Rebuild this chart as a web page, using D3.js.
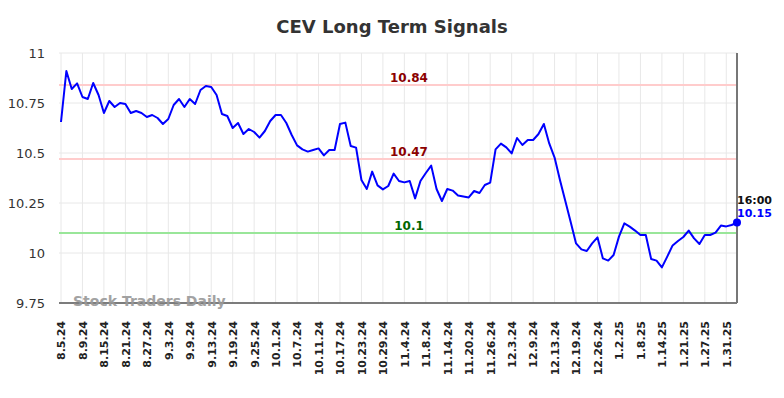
<!DOCTYPE html>
<html>
<head>
<meta charset="utf-8">
<script src="https://cdn.jsdelivr.net/npm/d3@7"></script>
<style>
    body { margin: 0; background: #fff; font-family: "DejaVu Sans", sans-serif; }
    #chart { width: 784px; height: 398px; }
</style>
</head>
<body>
<div id="chart"></div>
<script>
// trading days shown on the chart
const dates = [
    "8.5.24","8.6.24","8.7.24","8.8.24","8.9.24","8.12.24","8.13.24","8.14.24","8.15.24","8.16.24",
    "8.19.24","8.20.24","8.21.24","8.22.24","8.23.24","8.26.24","8.27.24","8.28.24","8.29.24","8.30.24",
    "9.3.24","9.4.24","9.5.24","9.6.24","9.9.24","9.10.24","9.11.24","9.12.24","9.13.24","9.16.24",
    "9.17.24","9.18.24","9.19.24","9.20.24","9.23.24","9.24.24","9.25.24","9.26.24","9.27.24","9.30.24",
    "10.1.24","10.2.24","10.3.24","10.4.24","10.7.24","10.8.24","10.9.24","10.10.24","10.11.24","10.14.24",
    "10.15.24","10.16.24","10.17.24","10.18.24","10.21.24","10.22.24","10.23.24","10.24.24","10.25.24","10.28.24",
    "10.29.24","10.30.24","10.31.24","11.1.24","11.4.24","11.5.24","11.6.24","11.7.24","11.8.24","11.11.24",
    "11.12.24","11.13.24","11.14.24","11.15.24","11.18.24","11.19.24","11.20.24","11.21.24","11.22.24","11.25.24",
    "11.26.24","11.27.24","11.29.24","12.2.24","12.3.24","12.4.24","12.5.24","12.6.24","12.9.24","12.10.24",
    "12.11.24","12.12.24","12.13.24","12.16.24","12.17.24","12.18.24","12.19.24","12.20.24","12.23.24","12.24.24",
    "12.26.24","12.27.24","12.30.24","12.31.24","1.2.25","1.3.25","1.6.25","1.7.25","1.8.25","1.9.25",
    "1.10.25","1.13.25","1.14.25","1.15.25","1.16.25","1.17.25","1.21.25","1.22.25","1.23.25","1.24.25",
    "1.27.25","1.28.25","1.29.25","1.30.25","1.31.25","2.3.25","2.4.25"
];

const prices = [
    10.655, 10.91, 10.82, 10.848, 10.78, 10.77, 10.85, 10.79, 10.70, 10.76,
    10.73, 10.75, 10.745, 10.70, 10.71, 10.70, 10.68, 10.69, 10.675, 10.645,
    10.67, 10.74, 10.77, 10.73, 10.77, 10.745, 10.815, 10.835, 10.83, 10.79,
    10.695, 10.685, 10.625, 10.65, 10.595, 10.62, 10.605, 10.577, 10.61, 10.66,
    10.69, 10.69, 10.65, 10.59, 10.538, 10.518, 10.507, 10.515, 10.523, 10.488,
    10.515, 10.515, 10.645, 10.652, 10.535, 10.527, 10.365, 10.32, 10.407, 10.338,
    10.318, 10.335, 10.397, 10.36, 10.353, 10.36, 10.273, 10.36, 10.40, 10.437,
    10.32, 10.26, 10.32, 10.312, 10.288, 10.283, 10.278, 10.31, 10.30, 10.34,
    10.352, 10.518, 10.547, 10.528, 10.498, 10.575, 10.54, 10.565, 10.565, 10.595,
    10.645, 10.548, 10.477, 10.365, 10.26, 10.155, 10.048, 10.018, 10.01, 10.048,
    10.078, 9.973, 9.962, 9.99, 10.082, 10.148, 10.132, 10.112, 10.09, 10.09,
    9.97, 9.962, 9.928, 9.982, 10.038, 10.06, 10.08, 10.112, 10.073, 10.045,
    10.09, 10.09, 10.102, 10.137, 10.133, 10.14, 10.152
];

const yTicks = [9.75, 10, 10.25, 10.5, 10.75, 11];
const xTicks = dates.filter((d, i) => i % 4 === 0 && i <= 124);

const resistance = [10.84, 10.47];
const support = [10.1];
const lastTime = "16:00";

const width = 784, height = 398;
const margin = { top: 53, right: 47, bottom: 95, left: 61 };

const svg = d3.select("#chart").append("svg")
    .attr("width", width)
    .attr("height", height);

const x = d3.scalePoint()
    .domain(dates)
    .range([margin.left, width - margin.right]);

const y = d3.scaleLinear()
    .domain([9.75, 11])
    .range([height - margin.bottom, margin.top]);

// title
svg.append("text")
    .attr("x", width / 2)
    .attr("y", 33)
    .attr("text-anchor", "middle")
    .style("font-size", "18px")
    .style("font-weight", "bold")
    .style("fill", "#333")
    .text("CEV Long Term Signals");

// grid
svg.append("g")
    .selectAll("line")
    .data(yTicks)
    .join("line")
    .attr("x1", margin.left - 2)
    .attr("x2", width - margin.right)
    .attr("y1", d => y(d))
    .attr("y2", d => y(d))
    .attr("stroke", "#e8e8e8")
    .attr("stroke-width", 1);

svg.append("g")
    .selectAll("line")
    .data(xTicks)
    .join("line")
    .attr("x1", d => x(d))
    .attr("x2", d => x(d))
    .attr("y1", margin.top)
    .attr("y2", height - margin.bottom)
    .attr("stroke", "#e8e8e8")
    .attr("stroke-width", 1);

// y axis labels
const yAxis = d3.axisLeft(y)
    .tickValues(yTicks)
    .tickSize(0)
    .tickPadding(16)
    .tickFormat(d => String(d));

svg.append("g")
    .attr("class", "y-axis")
    .attr("transform", "translate(" + margin.left + ",0)")
    .call(yAxis)
    .call(g => g.select(".domain").remove())
    .selectAll("text")
    .style("font-family", "DejaVu Sans, sans-serif")
    .style("font-size", "13px")
    .style("fill", "#333");

// x axis labels
const xAxis = d3.axisBottom(x)
    .tickValues(xTicks)
    .tickSize(0);

svg.append("g")
    .attr("class", "x-axis")
    .attr("transform", "translate(0," + (height - margin.bottom) + ")")
    .call(xAxis)
    .call(g => g.select(".domain").remove())
    .selectAll("text")
    .attr("transform", "rotate(-90)")
    .attr("x", -18)
    .attr("y", 0)
    .attr("dy", "0.35em")
    .attr("text-anchor", "end")
    .style("font-family", "DejaVu Sans, sans-serif")
    .style("font-size", "11px")
    .style("font-weight", "bold")
    .style("fill", "#222");

// signal lines
svg.append("g")
    .selectAll("line")
    .data(resistance)
    .join("line")
    .attr("x1", margin.left - 2)
    .attr("x2", width - margin.right)
    .attr("y1", d => y(d))
    .attr("y2", d => y(d))
    .attr("stroke", "#ffcccc")
    .attr("stroke-width", 2);

svg.append("g")
    .selectAll("line")
    .data(support)
    .join("line")
    .attr("x1", margin.left - 2)
    .attr("x2", width - margin.right)
    .attr("y1", d => y(d))
    .attr("y2", d => y(d))
    .attr("stroke", "#99e699")
    .attr("stroke-width", 2);

const midX = 409;

svg.append("g")
    .selectAll("text")
    .data(resistance)
    .join("text")
    .attr("x", midX)
    .attr("y", d => y(d) - 3.5)
    .attr("text-anchor", "middle")
    .style("font-size", "12px")
    .style("font-weight", "bold")
    .style("fill", "#8b0000")
    .text(d => d);

svg.append("g")
    .selectAll("text")
    .data(support)
    .join("text")
    .attr("x", midX)
    .attr("y", d => y(d) - 3.5)
    .attr("text-anchor", "middle")
    .style("font-size", "12px")
    .style("font-weight", "bold")
    .style("fill", "#006400")
    .text(d => d);

// bottom axis line and right edge
svg.append("line")
    .attr("x1", margin.left - 2)
    .attr("x2", width - margin.right)
    .attr("y1", y(9.75))
    .attr("y2", y(9.75))
    .attr("stroke", "#555")
    .attr("stroke-width", 1.5);

svg.append("line")
    .attr("x1", width - margin.right)
    .attr("x2", width - margin.right)
    .attr("y1", margin.top)
    .attr("y2", y(9.75))
    .attr("stroke", "#777")
    .attr("stroke-width", 2);

// watermark
svg.append("text")
    .attr("x", 73)
    .attr("y", y(9.75) + 3)
    .style("font-size", "14px")
    .style("font-weight", "bold")
    .style("fill", "#999")
    .style("opacity", 0.9)
    .text("Stock Traders Daily");

// price line
const line = d3.line()
    .x((d, i) => x(dates[i]))
    .y(d => y(d));

svg.append("path")
    .datum(prices)
    .attr("d", line)
    .attr("fill", "none")
    .attr("stroke", "#0000ff")
    .attr("stroke-width", 2)
    .attr("stroke-linejoin", "round");

// last point
const lastIdx = prices.length - 1;
const lastX = x(dates[lastIdx]), lastY = y(prices[lastIdx]);

svg.append("circle")
    .attr("cx", lastX)
    .attr("cy", lastY)
    .attr("r", 4)
    .attr("fill", "#0000ff");

svg.append("text")
    .attr("x", lastX)
    .attr("y", lastY - 19)
    .style("font-size", "11px")
    .style("font-weight", "bold")
    .style("fill", "#111")
    .text(lastTime);

svg.append("text")
    .attr("x", lastX)
    .attr("y", lastY - 6)
    .style("font-size", "11px")
    .style("font-weight", "bold")
    .style("fill", "#0000ff")
    .text(prices[lastIdx].toFixed(2));
</script>
</body>
</html>
